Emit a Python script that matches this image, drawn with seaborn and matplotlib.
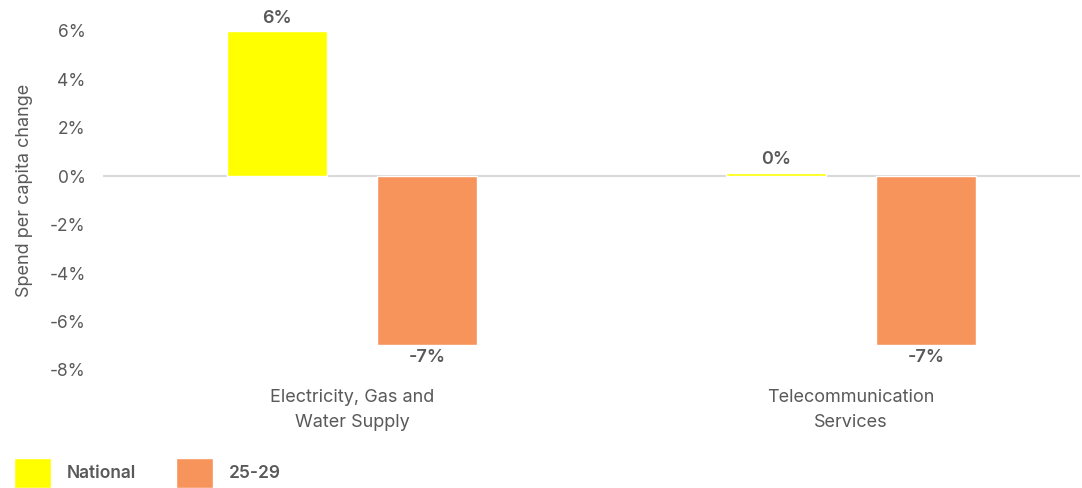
import pandas as pd
import matplotlib.pyplot as plt
import seaborn as sns
from matplotlib.ticker import FuncFormatter

categories = ['Electricity, Gas and\nWater Supply', 'Telecommunication\nServices']
national = [6.0, 0.15]
age_25_29 = [-6.95, -6.95]
series_names = ['National', '25-29']
colors = ['#ffff00', '#f7945c']

df = pd.DataFrame({
    'Category': categories * 2,
    'Series': [series_names[0]] * 2 + [series_names[1]] * 2,
    'Change': national + age_25_29,
})

sns.set_theme(style='white')
plt.rcParams['font.family'] = ['Inter', 'DejaVu Sans']
grey = '#595959'

fig = plt.figure(figsize=(10.82, 4.88), dpi=100)
ax = fig.add_axes([102.5 / 1082, (488 - 370) / 488, (1080 - 102.5) / 1082, (370 - 11.6) / 488])

sns.barplot(data=df, x='Category', y='Change', hue='Series', palette=colors,
            width=0.6, gap=1 / 3, saturation=1, ax=ax)

ax.set_xlim(-0.5, 1.459)
ax.set_ylim(-8, 6.8)
ax.set_yticks(range(-8, 7, 2))
ax.yaxis.set_major_formatter(FuncFormatter(lambda v, p: f'{v:.0f}%'))
ax.axhline(0, color='#d9d9d9', lw=1.5, zorder=0)
for s in ax.spines.values():
    s.set_visible(False)
ax.tick_params(axis='y', length=0, colors=grey, labelsize=12.5, pad=12)
ax.tick_params(axis='x', length=0, colors=grey, labelsize=13, pad=14)
for t in ax.get_xticklabels():
    t.set_linespacing(1.6)
ax.set_xlabel('')
ax.set_ylabel('Spend per capita change', color=grey, fontsize=13, labelpad=12)

for cont in ax.containers:
    ax.bar_label(cont, labels=[f'{v:.0f}%' for v in cont.datavalues],
                 padding=3, color=grey, fontsize=13, fontweight='semibold')

sns.move_legend(ax, 'lower left', bbox_to_anchor=(0.013, 0.0), bbox_transform=fig.transFigure,
                ncol=2, frameon=False, title=None, handlelength=2.1, handleheight=2.3,
                handletextpad=0.95, columnspacing=2.3, borderaxespad=0, borderpad=0,
                prop={'weight': 'semibold', 'size': 12.5})
for t in ax.get_legend().get_texts():
    t.set_color(grey)

plt.savefig('out.png', dpi=100)
plt.close()
